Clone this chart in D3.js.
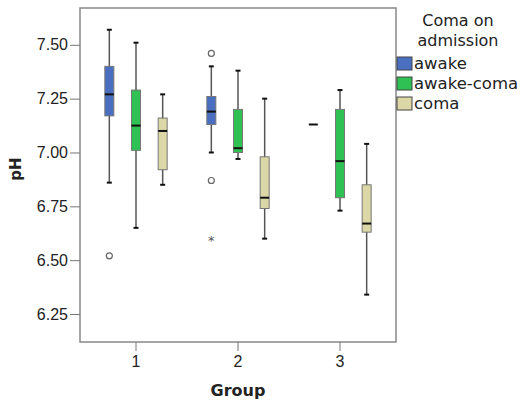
<!DOCTYPE html>
<html>
<head>
<meta charset="utf-8">
<script src="https://cdn.jsdelivr.net/npm/d3@7"></script>
<style>
  body { margin: 0; background: #fff; }
  svg { font-family: "DejaVu Sans", sans-serif; }
</style>
</head>
<body>
<div id="chart"></div>
<script>
const groups = ['1', '2', '3']
const series = ['awake', 'awake-coma', 'coma']
const colors = ['#4a6fc1', '#2fc153', '#dcd7a6']
const yTicks = [6.25, 6.50, 6.75, 7.00, 7.25, 7.50]

// box stats, rows = group, columns = series (null = no box)
const whiskerHigh = [[7.57, 7.51, 7.27], [7.40, 7.38, 7.25], [null, 7.29, 7.04]]
const q3 = [[7.40, 7.29, 7.16], [7.26, 7.20, 6.98], [null, 7.20, 6.85]]
const median = [[7.27, 7.125, 7.10], [7.19, 7.02, 6.79], [7.13, 6.96, 6.67]]
const q1 = [[7.17, 7.01, 6.92], [7.13, 7.00, 6.74], [null, 6.79, 6.63]]
const whiskerLow = [[6.86, 6.65, 6.85], [7.00, 6.97, 6.60], [null, 6.73, 6.34]]

// outliers: [group, series, value, type]
const outliers = [
  ['1', 'awake', 6.52, 'o'],
  ['2', 'awake', 7.46, 'o'],
  ['2', 'awake', 6.87, 'o'],
  ['2', 'awake', 6.60, '*']
]

const w = 524
const h = 405
const plot = { left: 80, top: 8, right: 396, bottom: 342 }

const svg = d3.select('#chart')
  .append('svg')
  .attr('width', w)
  .attr('height', h)

const xScale = d3.scaleBand()
  .domain(groups)
  .range([85, 391])

const xSub = d3.scaleBand()
  .domain(series)
  .range([11, 91])

const yScale = d3.scaleLinear()
  .domain([6.12, 7.671])
  .range([plot.bottom, plot.top])

// frame
svg.append('rect')
  .attr('x', plot.left)
  .attr('y', plot.top)
  .attr('width', plot.right - plot.left)
  .attr('height', plot.bottom - plot.top)
  .attr('fill', 'none')
  .attr('stroke', '#888')
  .attr('stroke-width', 1.5)

const yAxis = d3.axisLeft(yScale).tickValues(yTicks).tickFormat(d3.format('.2f')).tickSizeOuter(0).tickSize(10).tickPadding(2)
const xAxis = d3.axisBottom(xScale).tickSizeOuter(0).tickSize(9).tickPadding(5)

const gy = svg.append('g')
  .attr('transform', `translate(${plot.left}, 0)`)
  .call(yAxis)
gy.select('.domain').remove()
gy.selectAll('line').attr('stroke', '#777')
gy.selectAll('text').attr('font-size', 16).attr('fill', '#222')

const gx = svg.append('g')
  .attr('transform', `translate(0, ${plot.bottom})`)
  .call(xAxis)
gx.select('.domain').remove()
gx.selectAll('line').attr('stroke', '#777')
gx.selectAll('text').attr('font-size', 16).attr('fill', '#222')

// build box table
let boxes = []
groups.forEach((g, i) => {
  series.forEach((s, j) => {
    boxes.push({
      group: g, key: s, color: colors[j],
      hi: whiskerHigh[i][j], q3: q3[i][j], med: median[i][j],
      q1: q1[i][j], lo: whiskerLow[i][j]
    })
  })
})

const cx = d => xScale(d.group) + xSub(d.key) + xSub.bandwidth() / 2
const bw = 9

const full = boxes.filter(d => d.q3 !== null)

// whiskers
svg.selectAll('.whisker')
  .data(full)
  .enter()
  .append('line')
  .attr('x1', cx).attr('x2', cx)
  .attr('y1', d => yScale(d.hi))
  .attr('y2', d => yScale(d.lo))
  .attr('stroke', '#555')
  .attr('stroke-width', 1.5)

// caps
for (let k of ['hi', 'lo']) {
  svg.selectAll('.cap-' + k)
    .data(full)
    .enter()
    .append('line')
    .attr('x1', d => cx(d) - 2.5).attr('x2', d => cx(d) + 2.5)
    .attr('y1', d => yScale(d[k]))
    .attr('y2', d => yScale(d[k]))
    .attr('stroke', '#111')
    .attr('stroke-width', 2)
}

// boxes
svg.selectAll('.box')
  .data(full)
  .enter()
  .append('rect')
  .attr('x', d => cx(d) - bw / 2)
  .attr('width', bw)
  .attr('y', d => yScale(d.q3))
  .attr('height', d => yScale(d.q1) - yScale(d.q3))
  .attr('fill', d => d.color)
  .attr('stroke', '#777')
  .attr('stroke-width', 1)

// medians
svg.selectAll('.median')
  .data(boxes)
  .enter()
  .append('line')
  .attr('x1', d => cx(d) - bw / 2).attr('x2', d => cx(d) + bw / 2)
  .attr('y1', d => yScale(d.med))
  .attr('y2', d => yScale(d.med))
  .attr('stroke', '#111')
  .attr('stroke-width', 2)

// outliers
const ox = d => xScale(d[0]) + xSub(d[1]) + xSub.bandwidth() / 2
svg.selectAll('.outlier')
  .data(outliers.filter(d => d[3] === 'o'))
  .enter()
  .append('circle')
  .attr('cx', ox)
  .attr('cy', d => yScale(d[2]))
  .attr('r', 3)
  .attr('fill', '#fff')
  .attr('stroke', '#666')
  .attr('stroke-width', 1.2)

svg.selectAll('.extreme')
  .data(outliers.filter(d => d[3] === '*'))
  .enter()
  .append('text')
  .attr('x', ox)
  .attr('y', d => yScale(d[2]) + 6)
  .attr('text-anchor', 'middle')
  .attr('font-size', 13)
  .attr('fill', '#555')
  .text('*')

// axis titles
svg.append('text')
  .attr('transform', 'translate(21, 169) rotate(-90)')
  .attr('text-anchor', 'middle')
  .attr('font-weight', 'bold')
  .attr('font-size', 15)
  .attr('fill', '#222')
  .text('pH')

svg.append('text')
  .attr('x', 238)
  .attr('y', 396)
  .attr('text-anchor', 'middle')
  .attr('font-weight', 'bold')
  .attr('font-size', 16)
  .attr('fill', '#222')
  .text('Group')

// legend
const legend = svg.append('g')
legend.selectAll('.ltitle')
  .data(['Coma on', 'admission'])
  .enter()
  .append('text')
  .attr('x', 458)
  .attr('y', (d, i) => 26 + i * 20)
  .attr('text-anchor', 'middle')
  .attr('font-size', 16)
  .attr('fill', '#222')
  .text(d => d)

const li = legend.selectAll('.item')
  .data(series)
  .enter()
  .append('g')
  .attr('transform', (d, i) => `translate(397, ${57 + i * 20})`)

li.append('rect')
  .attr('width', 15)
  .attr('height', 13)
  .attr('fill', (d, i) => colors[i])
  .attr('stroke', '#444')
  .attr('stroke-width', 1)

li.append('text')
  .attr('x', 17)
  .attr('y', 12)
  .attr('font-size', 16.5)
  .attr('fill', '#222')
  .text(d => d)
</script>
</body>
</html>
